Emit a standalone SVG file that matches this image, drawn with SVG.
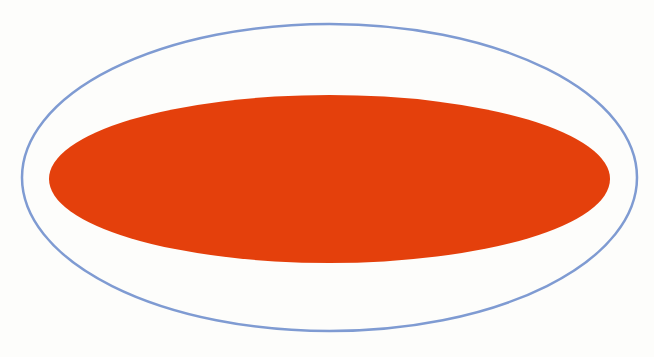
<svg xmlns="http://www.w3.org/2000/svg" width="654" height="357" viewBox="0 0 654 357">
  <style>
    .outer { fill: none; stroke: #7f9bd2; stroke-width: 2.5; }
    .inner { fill: #e4400c; stroke: none; }
  </style>
  <rect x="0" y="0" width="654" height="357" fill="#fdfdfb"/>
  <g id="outer-ellipse">
    <ellipse class="outer" cx="329.5" cy="177.5" rx="307.5" ry="153.5"/>
  </g>
  <g id="inner-ellipse">
    <ellipse class="inner" cx="329.5" cy="179" rx="280.5" ry="84"/>
  </g>
</svg>
